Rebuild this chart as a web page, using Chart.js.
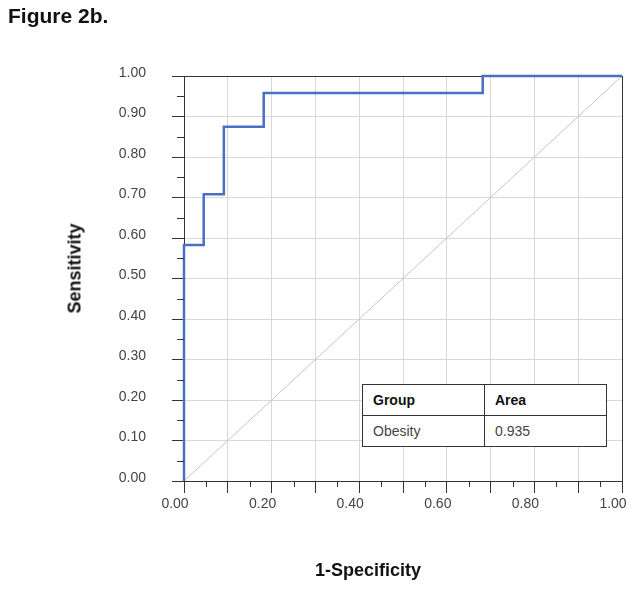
<!DOCTYPE html>
<html>
<head>
<meta charset="utf-8">
<script src="https://cdn.jsdelivr.net/npm/chart.js@4"></script>
<style>
  body { margin: 0; background: #fff; font-family: 'Liberation Sans', Arial, sans-serif; }
  #wrap { position: relative; width: 629px; height: 589px; }
  .lbl { position: absolute; font-weight: bold; color: #111; white-space: nowrap; }
  #figTitle { left: 8px; top: 4px; font-size: 21px; }
  #yTitle { left: -25px; top: 258px; width: 200px; text-align: center; font-size: 18px; transform: rotate(-90deg); }
  #xTitle { left: 268px; top: 560px; width: 200px; text-align: center; font-size: 18px; }
  #areaTable { position: absolute; left: 362px; top: 384px; border-collapse: collapse; background: #fff; font-size: 14px; }
  #areaTable td { border: 1px solid #333; width: 111px; padding: 0 0 0 10px; height: 30px; color: #444; }
  #areaTable tr:first-child td { font-weight: bold; color: #111; }
</style>
</head>
<body>
<div id="wrap">
  <canvas id="myChart" width="629" height="589"></canvas>
  <div class="lbl" id="figTitle">Figure 2b.</div>
  <div class="lbl" id="yTitle">Sensitivity</div>
  <div class="lbl" id="xTitle">1-Specificity</div>
  <table id="areaTable"></table>
</div>
<script>
// ROC curve corners
const fpr = [0.000, 0.000, 0.045, 0.091, 0.182, 0.682, 1.000];
const tpr = [0.000, 0.583, 0.708, 0.875, 0.958, 1.000, 1.000];
// chance line
const chanceX = [0, 1];
const chanceY = [0, 1];
// area table
const groups = ['Obesity'];
const areas = ['0.935'];

const table = document.getElementById('areaTable');
table.innerHTML = '<tr><td>Group</td><td>Area</td></tr>' +
    groups.map((g, i) => '<tr><td>' + g + '</td><td>' + areas[i] + '</td></tr>').join('');

const dark = '#333';
const gridGrey = '#d8d8d8';

// short ticks halfway between the labelled ones
const minorTicks = {
    id: 'minorTicks',
    afterDraw(chart) {
        const c = chart.ctx;
        const xs = chart.scales.x, ys = chart.scales.y;
        c.save();
        c.strokeStyle = dark;
        c.lineWidth = 1;
        c.beginPath();
        for (let i = 0; i < ys.ticks.length - 1; i++) {
            const py = Math.round(ys.getPixelForValue((ys.ticks[i].value + ys.ticks[i + 1].value) / 2)) + 0.5;
            c.moveTo(ys.right - 7, py);
            c.lineTo(ys.right, py);
        }
        for (let i = 0; i < xs.ticks.length - 1; i++) {
            const px = Math.round(xs.getPixelForValue((xs.ticks[i].value + xs.ticks[i + 1].value) / 2)) + 0.5;
            c.moveTo(px, xs.top);
            c.lineTo(px, xs.top + 6);
        }
        c.stroke();
        c.restore();
    }
};

const edgeColor = ctx => (ctx.tick && (ctx.tick.value === 0 || Math.abs(ctx.tick.value - 1) < 1e-9)) ? dark : gridGrey;

const ctx = document.getElementById('myChart').getContext('2d');
const myChart = new Chart(ctx, {
    type: 'scatter',
    data: {
        datasets: [
            {
                label: 'Obesity',
                data: fpr.map((x, i) => ({ x: x, y: tpr[i] })),
                showLine: true,
                stepped: 'before',
                borderColor: '#4a6fc4',
                borderWidth: 2.5,
                pointRadius: 0,
                clip: false,
                order: 1
            },
            {
                label: 'Reference',
                data: chanceX.map((x, i) => ({ x: x, y: chanceY[i] })),
                showLine: true,
                borderColor: '#c4c4c4',
                borderWidth: 1,
                pointRadius: 0,
                order: 2
            }
        ]
    },
    options: {
        responsive: false,
        animation: false,
        layout: { padding: { top: 76, right: 7, bottom: 0, left: 0 } },
        plugins: {
            legend: { display: false },
            tooltip: { enabled: false },
            title: { display: false }
        },
        scales: {
            x: {
                type: 'linear',
                min: 0,
                max: 1,
                afterFit: s => { s.height = 108; s.paddingLeft = 0; s.paddingRight = 0; },
                border: { color: dark, width: 1 },
                grid: { color: edgeColor, tickColor: dark, tickLength: 12 },
                ticks: {
                    stepSize: 0.1,
                    padding: 3,
                    labelOffset: -9,
                    color: '#444',
                    font: { family: "'Liberation Sans', Arial", size: 14 },
                    maxRotation: 0,
                    autoSkip: false,
                    callback: (v, i) => i % 2 === 0 ? v.toFixed(2) : ''
                }
            },
            y: {
                type: 'linear',
                min: 0,
                max: 1,
                afterFit: s => { s.width = 184; },
                border: { color: dark, width: 1 },
                grid: { color: edgeColor, tickColor: dark, tickLength: 12 },
                ticks: {
                    stepSize: 0.1,
                    padding: 26,
                    labelOffset: -3,
                    color: '#444',
                    font: { family: "'Liberation Sans', Arial", size: 14 },
                    callback: v => v.toFixed(2)
                }
            }
        }
    },
    plugins: [minorTicks]
});
</script>
</body>
</html>
